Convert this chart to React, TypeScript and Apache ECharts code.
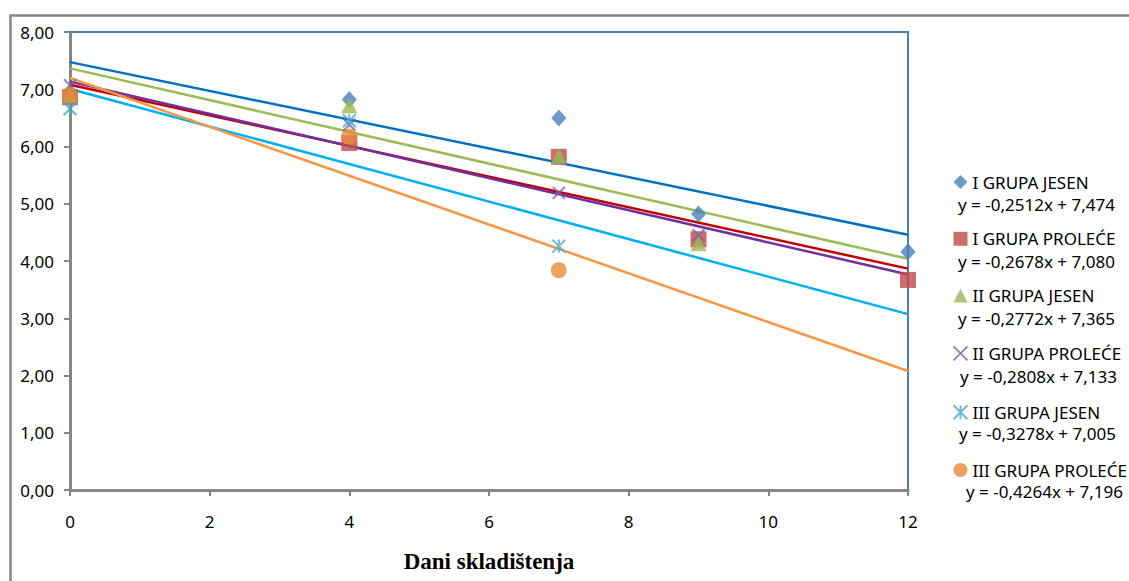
import React, { useEffect, useRef } from "react";
import * as echarts from "echarts";

// ---- Data ----
const SERIES_NAMES = [
  "I GRUPA JESEN",
  "I GRUPA PROLEĆE",
  "II GRUPA JESEN",
  "II GRUPA PROLEĆE",
  "III GRUPA JESEN",
  "III GRUPA PROLEĆE",
];

const DAYS_I_JESEN = [0, 4, 7, 9, 12];
const VALUES_I_JESEN = [6.92, 6.82, 6.5, 4.82, 4.16];

const DAYS_I_PROLECE = [0, 4, 7, 9, 12];
const VALUES_I_PROLECE = [6.86, 6.06, 5.82, 4.38, 3.67];

const DAYS_II_JESEN = [0, 4, 7, 9];
const VALUES_II_JESEN = [6.9, 6.72, 5.83, 4.31];

const DAYS_II_PROLECE = [0, 4, 7, 9];
const VALUES_II_PROLECE = [7.07, 6.38, 5.19, 4.45];

const DAYS_III_JESEN = [0, 4, 7];
const VALUES_III_JESEN = [6.66, 6.45, 4.26];

const DAYS_III_PROLECE = [0, 4, 7];
const VALUES_III_PROLECE = [6.9, 6.17, 3.84];

// trendline coefficients (y = slope * x + intercept), as printed in the legend
const SLOPES = [-0.2512, -0.2678, -0.2772, -0.2808, -0.3278, -0.4264];
const INTERCEPTS = [7.474, 7.08, 7.365, 7.133, 7.005, 7.196];
const EQUATIONS = [
  "y = -0,2512x + 7,474",
  "y = -0,2678x + 7,080",
  "y = -0,2772x + 7,365",
  "y = -0,2808x + 7,133",
  "y = -0,3278x + 7,005",
  "y = -0,4264x + 7,196",
];
const TREND_X_RANGE = [0, 12];

const X_TITLE = "Dani skladištenja";

// ---- Styles ----
const MARKER_COLORS = ["#4A7EBB", "#BE4B48", "#98B954", "#7D60A0", "#46AAC5", "#E8893A"];
const LINE_COLORS = ["#0070C0", "#C00000", "#9BBB59", "#7030A0", "#00B0F0", "#F79646"];
const X_PATH = "path://M0,0L10,10M10,0L0,10";
const AST_PATH = "path://M0,0L10,10M10,0L0,10M5,0L5,10";
const SYMBOLS = ["diamond", "rect", "triangle", X_PATH, AST_PATH, "circle"];
const SYMBOL_SIZES = [[15, 17], 16, 16, 12, 13, 16];
const EQ_X = [958, 958, 958, 960, 959, 966];
const FONT = "Noto Sans";
const TEXT_SIZE = 17;
const ITEM_PITCH = 57.4;

export default function App() {
  const ref = useRef<HTMLDivElement>(null);

  useEffect(() => {
    const chart = echarts.init(ref.current!, null, { renderer: "svg" });

    const dayArrays = [
      DAYS_I_JESEN,
      DAYS_I_PROLECE,
      DAYS_II_JESEN,
      DAYS_II_PROLECE,
      DAYS_III_JESEN,
      DAYS_III_PROLECE,
    ];
    const valueArrays = [
      VALUES_I_JESEN,
      VALUES_I_PROLECE,
      VALUES_II_JESEN,
      VALUES_II_PROLECE,
      VALUES_III_JESEN,
      VALUES_III_PROLECE,
    ];

    const trendSeries = SERIES_NAMES.map((name, i) => ({
      name: name + " trend",
      type: "line",
      silent: true,
      symbol: "none",
      z: 1,
      lineStyle: { color: LINE_COLORS[i], width: 2.5 },
      data: TREND_X_RANGE.map((x) => [x, SLOPES[i] * x + INTERCEPTS[i]]),
    }));

    const scatterSeries = SERIES_NAMES.map((name, i) => {
      const isStroke = i === 3 || i === 4;
      return {
        name,
        type: "scatter",
        z: 3,
        symbol: SYMBOLS[i],
        symbolSize: SYMBOL_SIZES[i],
        itemStyle: isStroke
          ? { color: "none", borderColor: MARKER_COLORS[i], borderWidth: 2 }
          : { color: MARKER_COLORS[i] },
        data: dayArrays[i].map((d, k) => [d, valueArrays[i][k]]),
      };
    });

    const eqTexts = EQUATIONS.map((eq, i) => ({
      type: "text",
      x: EQ_X[i],
      y: 204 + i * ITEM_PITCH,
      style: {
        text: eq,
        fill: "#000",
        fontFamily: FONT,
        fontSize: TEXT_SIZE,
        lineHeight: 16,
        verticalAlign: "middle",
        align: "left",
      },
    }));

    chart.setOption({
      animation: false,
      backgroundColor: "#fff",
      grid: {
        left: 70,
        right: 221,
        top: 32,
        bottom: 91,
        containLabel: false,
        outerBoundsMode: "none",
        show: true,
        borderColor: "#4A7EBB",
        borderWidth: 2,
        backgroundColor: "#fff",
      },
      xAxis: {
        type: "value",
        min: 0,
        max: 12,
        interval: 2,
        name: X_TITLE,
        nameLocation: "middle",
        nameGap: 60,
        nameTextStyle: {
          fontFamily: "Liberation Serif",
          fontWeight: "bold",
          fontSize: 23,
          color: "#000",
        },
        axisLine: { show: true, onZero: false, lineStyle: { color: "#868686", width: 3 } },
        axisTick: { show: true, length: 6, lineStyle: { color: "#868686", width: 2 } },
        axisLabel: { margin: 23, fontFamily: FONT, fontSize: 17, color: "#000" },
        splitLine: { show: false },
      },
      yAxis: {
        type: "value",
        min: 0,
        max: 8,
        interval: 1,
        axisLine: { show: true, onZero: false, lineStyle: { color: "#868686", width: 3 } },
        axisTick: { show: true, length: 6, lineStyle: { color: "#868686", width: 2 } },
        axisLabel: {
          margin: 16,
          fontFamily: FONT,
          fontSize: 17,
          color: "#000",
          formatter: (v: number) => v.toFixed(2).replace(".", ","),
        },
        splitLine: { show: false },
      },
      legend: {
        data: SERIES_NAMES,
        orient: "vertical",
        left: 951,
        top: 173.5,
        padding: 0,
        itemWidth: 14,
        itemHeight: 14,
        itemGap: 39.8,
        textStyle: { fontFamily: FONT, fontSize: TEXT_SIZE, color: "#000", lineHeight: 17 },
        selectedMode: false,
      },
      graphic: [
        {
          type: "rect",
          left: 8,
          top: 13,
          shape: { x: 0, y: 0, width: 1200, height: 700 },
          style: { fill: "none", stroke: "#868686", lineWidth: 2.5 },
          silent: true,
          z: 100,
        },
        ...eqTexts,
      ],
      series: [...trendSeries, ...scatterSeries],
    });

    return () => chart.dispose();
  }, []);

  return (
    <div
      ref={ref}
      style={{ position: "absolute", left: 0, top: 0, width: 1129, height: 581, background: "#fff" }}
    />
  );
}
